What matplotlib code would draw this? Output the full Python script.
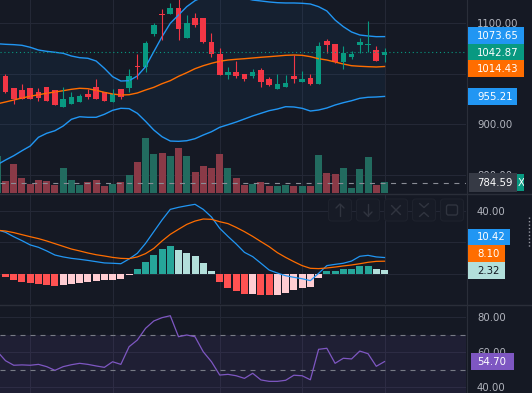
import matplotlib
matplotlib.use("Agg")
import matplotlib.pyplot as plt
from matplotlib.patches import Rectangle, FancyBboxPatch
from matplotlib.lines import Line2D
from matplotlib.transforms import Affine2D

# ---------------- data (bar index -1 is the partly hidden first bar) ----------------
bars = list(range(-1, 47))
open_ = [985.0, 995.6, 971.2, 967.9, 971.2, 964.0, 973.2, 967.9, 935.0, 940.9, 943.5,
         960.0, 973.2, 964.0, 944.8, 969.2, 972.5, 1015.4, 1014.1, 1079.5, 1118.4, 1119.1,
         1130.3, 1071.5, 1109.8, 1109.8, 1063.0, 1039.2, 998.3, 1003.6, 999.6, 995.6,
         1007.5, 989.7, 970.6, 974.5, 995.6, 984.4, 991.7, 980.5, 1065.0, 1059.0, 1024.0,
         1033.3, 1057.0, 1056.5, 1047.2, 1038.0]
high = [1002.0, 999.6, 971.2, 979.8, 972.5, 971.2, 973.2, 967.9, 973.2, 963.3, 960.0,
        969.2, 989.7, 964.0, 969.2, 969.2, 1008.8, 1038.5, 1065.0, 1100.6, 1127.7, 1139.5,
        1150.0, 1115.8, 1119.7, 1109.8, 1081.5, 1050.5, 1013.5, 1026.0, 999.6, 1009.5,
        1012.1, 993.7, 1000.3, 998.3, 1037.2, 1005.6, 999.6, 1063.0, 1068.9, 1059.0, 1055.1,
        1045.2, 1071.5, 1104.6, 1054.4, 1050.5]
low = [978.0, 961.3, 940.9, 950.8, 950.8, 946.8, 946.8, 939.0, 935.0, 940.9, 943.5,
       950.8, 950.8, 946.8, 944.8, 950.1, 964.6, 990.4, 1002.9, 1074.9, 1066.3, 1119.1,
       1066.3, 1071.5, 1092.1, 1061.7, 1032.6, 998.3, 989.7, 991.7, 985.7, 991.7,
       974.5, 975.8, 970.6, 974.5, 982.5, 984.4, 977.8, 980.5, 1041.9, 1021.4, 1010.2,
       1030.0, 1040.5, 1043.2, 1026.0, 1022.7]
close = [998.0, 964.6, 949.4, 950.8, 950.8, 952.1, 946.8, 939.0, 950.1, 953.4, 956.0,
         954.7, 950.8, 946.8, 959.3, 954.7, 995.6, 1014.1, 1060.4, 1096.6, 1116.4, 1130.3,
         1088.7, 1100.0, 1096.6, 1063.0, 1038.5, 998.3, 1003.6, 995.6, 989.0, 1003.6,
         984.4, 978.5, 979.8, 981.8, 989.7, 989.7, 980.5, 1055.1, 1057.0, 1023.4, 1041.2,
         1039.2, 1063.0, 1057.5, 1026.0, 1042.87]
volume = [36.7, 12.3, 29.3, 15.3, 9.3, 13.3, 12.3, 8.3, 25.3, 13.3, 8.3, 11.3, 13.3, 7.3,
          9.3, 11.3, 18.3, 31.3, 55.3, 39.3, 40.3, 37.3, 45.3, 37.3, 21.3, 27.3, 25.3, 39.3,
          25.3, 15.3, 8.3, 9.3, 11.3, 7.3, 7.3, 8.3, 7.3, 7.3, 7.3, 38.3, 20.3, 19.3, 25.3,
          5.3, 24.3, 36.3, 8.3, 11.3]  # thousands
bb_upper = [1059.5, 1058.4, 1057.7, 1056.4, 1052.5, 1047.1, 1044.5, 1042.6, 1040.6, 1035.2,
            1031.9, 1030.7, 1025.3, 1010.9, 994.3, 985.7, 986.4, 995.6, 1014.1, 1043.8,
            1073.5, 1100.0, 1116.4, 1132.9, 1144.8, 1152.0, 1158.0, 1160.0, 1158.0, 1154.0,
            1150.0, 1146.0, 1144.2, 1142.2, 1140.8, 1140.2, 1140.2, 1139.6, 1138.2, 1132.9,
            1124.4, 1106.5, 1093.3, 1082.8, 1076.8, 1074.9, 1073.5, 1073.65]
bb_basis = [940.5, 944.2, 948.1, 952.1, 955.5, 958.6, 961.4, 964.0, 966.5, 969.3, 971.3,
            970.5, 967.3, 963.3, 960.0, 958.0, 958.6, 962.0, 967.9, 973.2, 980.4, 986.4,
            995.0, 1002.2, 1010.1, 1016.0, 1020.8, 1024.8, 1027.3, 1028.7, 1029.9, 1031.3,
            1032.7, 1033.9, 1035.2, 1036.6, 1037.2, 1036.6, 1033.9, 1029.9, 1027.3, 1023.4,
            1019.4, 1016.0, 1014.9, 1014.1, 1013.5, 1014.43]
bb_lower = [820.0, 829.3, 837.8, 847.7, 857.0, 874.3, 882.2, 887.3, 896.6, 909.9, 915.0,
            913.9, 913.9, 919.8, 927.7, 931.7, 931.0, 921.8, 905.9, 888.7, 875.4, 866.9,
            866.3, 867.5, 871.5, 878.8, 885.3, 894.1, 899.2, 904.5, 910.5, 916.6, 921.8,
            927.0, 930.3, 934.9, 934.3, 931.7, 926.3, 928.3, 932.3, 938.2, 942.8, 946.7,
            951.5, 953.5, 954.1, 955.21]
macd_line = [28.0, 26.4, 23.6, 21.1, 18.4, 16.9, 14.6, 12.0, 10.8, 9.9, 9.3, 8.6, 7.8, 7.0,
             6.8, 6.5, 9.5, 13.1, 19.4, 26.8, 34.2, 40.9, 42.2, 43.2, 44.1, 40.9, 36.1, 28.9,
             23.8, 19.0, 13.7, 11.0, 6.8, 2.5, 0.6, -1.1, -2.1, -3.0, -4.2, 0.4, 5.3, 6.1,
             6.8, 8.2, 11.2, 11.8, 10.8, 10.42]
signal_line = [27.7, 27.2, 26.2, 24.9, 23.6, 22.4, 20.9, 19.2, 17.5, 15.8, 14.6, 13.3, 12.2,
               11.4, 10.5, 9.9, 9.7, 10.8, 12.9, 16.2, 20.9, 25.1, 28.3, 31.4, 33.5, 34.8,
               34.6, 33.1, 31.9, 29.5, 26.8, 23.8, 20.5, 17.3, 13.5, 10.5, 7.8, 5.3, 3.6, 3.4,
               3.8, 4.4, 5.1, 5.7, 6.5, 7.4, 8.0, 8.10]
macd_hist = [0.3, -1.9, -3.6, -4.9, -5.5, -6.1, -6.8, -7.4, -6.8, -6.1, -5.5, -4.9, -4.2,
             -4.1, -3.6, -3.0, -0.6, 3.2, 7.6, 12.0, 15.8, 17.7, 15.2, 13.3, 11.4, 7.0, 1.9,
             -5.1, -8.9, -10.8, -12.8, -12.6, -13.2, -13.4, -13.3, -12.0, -10.1, -8.9, -8.2,
             -2.5, 1.8, 2.0, 3.1, 3.3, 5.0, 5.2, 3.2, 2.32]
rsi = [60.5, 55.2, 52.6, 52.8, 52.6, 53.1, 51.8, 49.7, 51.8, 52.9, 53.7, 53.1, 52.2, 51.4,
       54.6, 53.1, 63.2, 67.0, 73.7, 77.9, 79.8, 80.9, 68.9, 69.9, 68.9, 60.3, 54.6, 47.0,
       47.4, 46.6, 45.1, 48.0, 44.2, 43.4, 43.4, 44.0, 46.9, 46.6, 44.3, 61.7, 62.3, 53.7,
       56.6, 56.2, 60.7, 59.2, 52.0, 54.70]
time_grid_bars = [3, 13, 26, 36, 46]
price_grid = [800, 900, 1000, 1100]
price_tick_labels = ['800.00', '900.00', '', '1100.00']
macd_grid = [0, 20, 40]
macd_tick_labels = ['', '', '40.00']
rsi_grid = [40, 60, 80]
rsi_tick_labels = ['40.00', '60.00', '80.00']
volume_level = 784.59
rsi_upper, rsi_middle, rsi_lower = 70, 50, 30

# ---------------- style ----------------
W, H = 532, 393
PLOT_R = 466
BG = '#151924'
GRID = '#242836'
SEP = '#2a2e39'
UP, DOWN = '#089981', '#f23645'
VOL_UP, VOL_DOWN = '#226b5f', '#8a3a47'
BLUE, ORANGE, PURPLE = '#2196f3', '#ff6d00', '#7e57c2'
TICK_C = '#b2b5be'
FS = 7.3
XL, XR = -0.667, 55.89

fig = plt.figure(figsize=(W / 100, H / 100), dpi=100, facecolor=BG)
PX = Affine2D().scale(1, -1).translate(0, H)  # pixel-from-top -> display


def pane(top, bottom):
    return [0, 1 - bottom / H, PLOT_R / W, (bottom - top) / H]


def setup(ax, ylim, ticks, labels):
    ax.set_facecolor(BG)
    ax.set_xlim(XL, XR)
    ax.set_ylim(*ylim)
    for s in ax.spines.values():
        s.set_visible(False)
    ax.set_xticks([])
    ax.yaxis.tick_right()
    ax.set_yticks(ticks)
    ax.set_yticklabels(labels)
    ax.tick_params(axis='y', length=0, pad=7.9, labelsize=FS, labelcolor=TICK_C)
    for t in ticks:
        ax.axhline(t, color=GRID, lw=0.8, zorder=0)
    for b in time_grid_bars:
        ax.axvline(b, color=GRID, lw=0.8, zorder=0)


# ---- main pane: grid + band fill (bottom), volume (middle), price (top) ----
axg = fig.add_axes(pane(0, 193))
setup(axg, (764.0, 1146.1), price_grid, price_tick_labels)
axg.set_zorder(0)
axg.fill_between(bars, bb_lower, bb_upper, color=BLUE, alpha=0.06, lw=0, zorder=1)

axv = fig.add_axes(pane(0, 193), sharex=axg)
axv.set_zorder(1)
axv.set_facecolor('none')
axv.axis('off')
axv.set_ylim(0, 193)
vcolors = [VOL_UP if c >= o else VOL_DOWN for o, c in zip(open_, close)]
axv.bar(bars, volume, width=0.85, color=vcolors, lw=0)

ax1 = fig.add_axes(pane(0, 193), sharex=axg, sharey=axg)
ax1.set_zorder(2)
ax1.set_facecolor('none')
ax1.axis('off')
ax1.plot(bars, bb_upper, color=BLUE, lw=1.0)
ax1.plot(bars, bb_lower, color=BLUE, lw=1.0)
ax1.plot(bars, bb_basis, color=ORANGE, lw=1.0)
ccol = [UP if c >= o else DOWN for o, c in zip(open_, close)]
ax1.vlines(bars, low, high, colors=ccol, lw=0.8)
bottoms = [min(o, c) for o, c in zip(open_, close)]
heights = [max(abs(c - o), 1.6) for o, c in zip(open_, close)]
ax1.bar(bars, heights, bottom=bottoms, width=0.68, color=ccol, lw=0)
ax1.axhline(close[-1], color=UP, lw=0.8, dashes=(1, 2.5))
ax1.axhline(volume_level, color='#8a8d96', lw=0.8, dashes=(4.5, 5))
ax1.set_xlim(XL, XR)

# ---- MACD pane ----
ax2 = fig.add_axes(pane(194, 304))
setup(ax2, (-18.99, 50.63), macd_grid, macd_tick_labels)
hcol = []
for k, h in enumerate(macd_hist):
    prev = macd_hist[k - 1] if k > 0 else 0
    if h >= 0:
        hcol.append('#26a69a' if h > prev else '#b2dfdb')
    else:
        hcol.append('#ffcdd2' if h > prev else '#ff5252')
ax2.bar(bars, macd_hist, width=0.85, color=hcol, lw=0, zorder=2)
ax2.plot(bars, macd_line, color=BLUE, lw=0.9, zorder=3)
ax2.plot(bars, signal_line, color=ORANGE, lw=0.9, zorder=3)

# ---- RSI pane ----
ax3 = fig.add_axes(pane(305, 393))
setup(ax3, (36.74, 87.03), rsi_grid, rsi_tick_labels)
ax3.axhspan(rsi_lower, rsi_upper, color=PURPLE, alpha=0.1, lw=0, zorder=1)
ax3.axhline(rsi_upper, color='#787b86', lw=0.8, dashes=(4.5, 4.5), zorder=2)
ax3.axhline(rsi_middle, color='#787b86', lw=0.8, dashes=(4.5, 4.5), zorder=2)
ax3.plot(bars, rsi, color=PURPLE, lw=0.9, zorder=3)

# ---------------- pixel layer: separators, value labels, toolbar ----------------
def ypx(ax, v):
    return H - ax.transData.transform((0, v))[1]


def hline_px(y, x0, x1, color=SEP, lw=1.0, **kw):
    fig.add_artist(Line2D([x0, x1], [y, y], transform=PX, color=color, lw=lw, zorder=15, **kw))


hline_px(193.5, 0, W)
hline_px(304.5, 0, W)
fig.add_artist(Line2D([PLOT_R + 0.5, PLOT_R + 0.5], [0, H], transform=PX, color=SEP, lw=0.8, zorder=15))


def box_label(yc, text, bg, fg, x0, x1, h=16.7):
    fig.add_artist(Rectangle((x0, yc - h / 2), x1 - x0, h, transform=PX,
                             facecolor=bg, edgecolor='none', zorder=20))
    return fig.text(477, yc + 0.5, text, transform=PX, color=fg, fontsize=FS,
                    ha='left', va='center', zorder=21)


HB = 16.7
y_last = ypx(ax1, close[-1])
y_up = min(ypx(ax1, bb_upper[-1]), y_last - HB)
y_mid = max(ypx(ax1, bb_basis[-1]), y_last + HB)
box_label(y_up, f'{bb_upper[-1]:.2f}', BLUE, 'white', 468, 523.5)
box_label(y_last, f'{close[-1]:.2f}', UP, 'white', 468, 523.5)
box_label(y_mid, f'{bb_basis[-1]:.2f}', ORANGE, 'white', 468, 523.5)
box_label(ypx(ax1, bb_lower[-1]), f'{bb_lower[-1]:.2f}', BLUE, 'white', 468, 516.7)
yv = ypx(ax1, volume_level)
box_label(yv, f'{volume_level:.2f}', '#363a45', 'white', 468.5, 516.7, h=19.5)
tr = Rectangle((517, yv - 8.5), 6.5, 17, transform=PX, facecolor=UP, edgecolor='none', zorder=20)
fig.add_artist(tr)
tx = fig.text(517.3, yv + 0.5, 'X', transform=PX, color='white', fontsize=FS,
              ha='left', va='center', zorder=21)
tx.set_clip_path(tr)

y_h = ypx(ax2, macd_hist[-1])
y_s = min(ypx(ax2, signal_line[-1]), y_h - HB)
y_m = min(ypx(ax2, macd_line[-1]), y_s - HB)
box_label(y_m, f'{macd_line[-1]:.2f}', BLUE, 'white', 468, 510)
box_label(y_s, f'{signal_line[-1]:.2f}', ORANGE, 'white', 468, 505)
box_label(y_h, f'{macd_hist[-1]:.2f}', '#b2dfdb', '#131722', 468, 505)

box_label(ypx(ax3, rsi[-1]), f'{rsi[-1]:.2f}', PURPLE, 'white', 470.5, 513.5)

# pane toolbar (faint)
ICON = '#30343f'
for x0 in [328.5, 356.5, 384.5, 412.5, 440.5]:
    fig.add_artist(FancyBboxPatch((x0, 199), 23, 22, boxstyle='round,pad=0,rounding_size=3',
                                  transform=PX, facecolor='#171b26', edgecolor='#1e222d',
                                  lw=0.8, zorder=16))


def seg(xs, ys):
    fig.add_artist(Line2D(xs, ys, transform=PX, color=ICON, lw=1.0, zorder=17,
                          solid_capstyle='round'))


seg([340, 340], [204, 216]); seg([336, 340, 344], [208, 204, 208])
seg([368, 368], [204, 216]); seg([364, 368, 372], [212, 216, 212])
seg([391.5, 400.5], [205.5, 214.5]); seg([391.5, 400.5], [214.5, 205.5])
seg([419.5, 424, 428.5], [203.5, 207.5, 203.5]); seg([419.5, 424, 428.5], [216.5, 212.5, 216.5])
fig.add_artist(FancyBboxPatch((446.5, 205), 11, 10, boxstyle='round,pad=0,rounding_size=2',
                              transform=PX, facecolor='none', edgecolor=ICON, lw=1.0, zorder=17))
fig.add_artist(Line2D([528.5, 528.5], [217, 247], transform=PX, color='#9598a1', lw=1.0,
                      dashes=(1, 1.5), zorder=17))

fig.savefig('out.png', dpi=100, facecolor=BG)
